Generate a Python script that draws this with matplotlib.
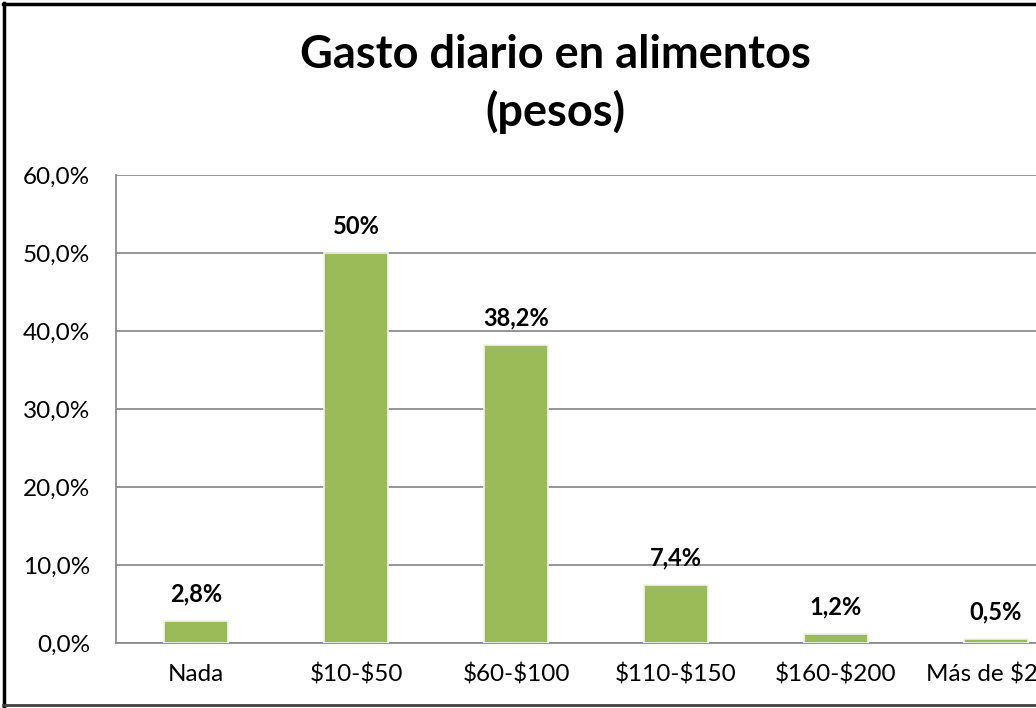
import matplotlib.pyplot as plt
from matplotlib.lines import Line2D

categorias = ['Nada', '$10-$50', '$60-$100', '$110-$150', '$160-$200', 'Más de $200']
porcentajes = [2.8, 50.0, 38.2, 7.4, 1.2, 0.5]
etiquetas = ['2,8%', '50%', '38,2%', '7,4%', '1,2%', '0,5%']
ticks_y = [0, 10, 20, 30, 40, 50, 60]

plt.rcParams['font.family'] = ['Lato', 'DejaVu Sans']

fig = plt.figure(figsize=(10.36, 7.08), dpi=100)
# el área del gráfico sigue más allá del borde derecho (recortado como en el original)
ax = fig.add_axes([0.112, 0.0918, 0.9266, 0.661])

x = range(len(categorias))
ax.bar(x, porcentajes, width=0.4, color='#9BBB59', edgecolor='#F2F2F2', linewidth=1.2, zorder=3)

for i, (v, t) in enumerate(zip(porcentajes, etiquetas)):
    ax.annotate(t, (i, v), xytext=(0, 27), textcoords='offset pixels',
                ha='center', va='center', fontsize=17, fontweight='bold', zorder=4)

ax.set_xlim(-0.5, len(categorias) - 0.5)
ax.set_ylim(0, 60)
ax.set_yticks(ticks_y)
ax.set_yticklabels([f'{t:.1f}%'.replace('.', ',') for t in ticks_y], fontsize=17.5)
ax.set_xticks(list(x))
# escapar el signo $ para que no se interprete como mathtext
ax.set_xticklabels([c.replace('$', r'\$') for c in categorias], fontsize=17.5)
ax.tick_params(axis='both', length=0)
ax.tick_params(axis='x', pad=15)
ax.tick_params(axis='y', pad=18.5)
ax.grid(axis='y', color='#8C8C8C', linewidth=1.3, zorder=0)
for lado in ['top', 'right']:
    ax.spines[lado].set_visible(False)
ax.spines['left'].set_color('#8C8C8C')
ax.spines['bottom'].set_color('#8C8C8C')
ax.spines['left'].set_linewidth(1.3)
ax.spines['bottom'].set_linewidth(1.3)

fig.text(0.536, 0.922, 'Gasto diario en alimentos', ha='center', va='center',
         fontsize=32.5, fontweight='bold')
fig.text(0.536, 0.842, '(pesos)', ha='center', va='center',
         fontsize=32.5, fontweight='bold')

# marco del gráfico
fig.add_artist(Line2D([0.004, 0.004], [0.003, 0.996], color='black', linewidth=2.5, transform=fig.transFigure))
fig.add_artist(Line2D([0.003, 1.0], [0.995, 0.995], color='black', linewidth=2.5, transform=fig.transFigure))
fig.add_artist(Line2D([0.003, 1.0], [0.004, 0.004], color='#404040', linewidth=2, transform=fig.transFigure))

fig.savefig('out.png', dpi=100)
